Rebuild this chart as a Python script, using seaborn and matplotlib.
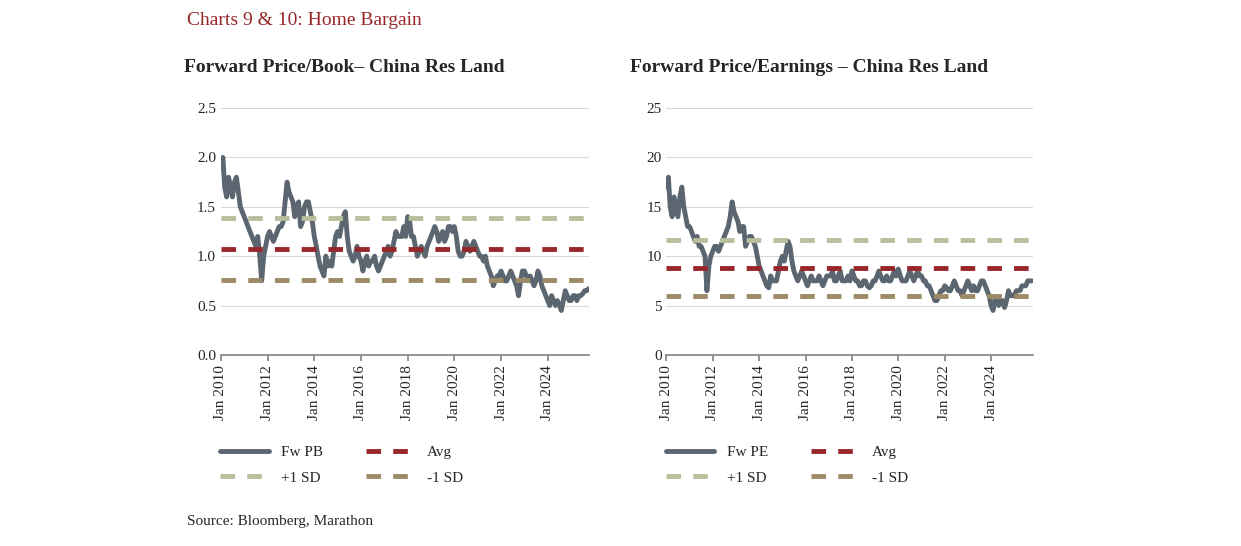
import matplotlib
matplotlib.use("Agg")
import matplotlib.pyplot as plt
import numpy as np
import pandas as pd
import seaborn as sns

sns.set_theme(style="white")
plt.rcParams['font.family'] = ['Liberation Serif', 'DejaVu Serif']

# monthly values, Jan 2010 .. Oct 2025
fw_pb = [
    1.9, 2.0, 1.7, 1.6, 1.8, 1.7, 1.6, 1.75, 1.8, 1.65, 1.5, 1.45,
    1.4, 1.35, 1.3, 1.25, 1.2, 1.15, 1.1, 1.2, 1.0, 0.75, 1.0, 1.1,
    1.2, 1.25, 1.2, 1.15, 1.2, 1.25, 1.3, 1.3, 1.35, 1.55, 1.75, 1.65,
    1.6, 1.55, 1.4, 1.5, 1.55, 1.3, 1.35, 1.5, 1.55, 1.55, 1.45, 1.35,
    1.2, 1.1, 1.0, 0.9, 0.85, 0.8, 1.0, 0.9, 0.95, 0.9, 1.05, 1.2,
    1.25, 1.2, 1.3, 1.4, 1.45, 1.2, 1.05, 1.0, 0.95, 1.0, 1.1, 1.0,
    0.95, 0.85, 0.95, 1.0, 0.9, 0.95, 0.95, 1.0, 0.9, 0.85, 0.9, 0.95,
    1.0, 1.05, 1.1, 1.0, 1.05, 1.15, 1.25, 1.2, 1.2, 1.2, 1.3, 1.2,
    1.4, 1.35, 1.2, 1.2, 1.1, 1.0, 1.05, 1.1, 1.05, 1.0, 1.1, 1.15,
    1.2, 1.25, 1.3, 1.25, 1.15, 1.2, 1.25, 1.15, 1.2, 1.3, 1.3, 1.25,
    1.3, 1.2, 1.05, 1.0, 1.0, 1.05, 1.15, 1.1, 1.05, 1.1, 1.15, 1.1,
    1.05, 1.0, 1.0, 0.95, 1.0, 0.9, 0.85, 0.8, 0.7, 0.75, 0.8, 0.8,
    0.85, 0.8, 0.75, 0.75, 0.8, 0.85, 0.8, 0.75, 0.7, 0.6, 0.75, 0.85,
    0.85, 0.8, 0.75, 0.8, 0.75, 0.7, 0.75, 0.85, 0.8, 0.7, 0.65, 0.6,
    0.55, 0.5, 0.6, 0.55, 0.5, 0.55, 0.5, 0.45, 0.55, 0.65, 0.6, 0.55,
    0.55, 0.6, 0.6, 0.55, 0.6, 0.6, 0.62, 0.65, 0.65, 0.67,
]
fw_pe = [
    17, 18, 15, 14, 16, 15, 14, 16, 17, 15, 14, 13,
    13, 12.5, 12, 11.5, 12, 11, 11, 10.5, 10, 6.5, 9, 10,
    10.5, 11, 11, 10.5, 11, 11.5, 12, 12.5, 13, 14, 15.5, 14.5,
    14, 13.5, 12.5, 13, 13, 11, 11.5, 12, 12, 11.5, 11, 10,
    9, 8.5, 8, 7.5, 7, 6.8, 8, 7.5, 7.5, 7.5, 8.5, 9.5,
    10, 9.5, 10.5, 11.5, 11, 9.5, 8.5, 8, 7.5, 8, 8.5, 8,
    7.5, 7, 7.5, 8, 7.5, 7.5, 7.5, 8, 7.5, 7, 7.5, 8,
    8, 8, 8.5, 7.5, 7.5, 8, 8.5, 7.5, 7.5, 7.5, 8, 7.5,
    8.5, 8, 7.5, 7.5, 7, 7, 7.5, 7.5, 7, 6.8, 7, 7.5,
    7.5, 8, 8.5, 8, 7.5, 7.5, 8, 7.5, 7.5, 8, 8.5, 8,
    8.7, 8, 7.5, 7.5, 7.5, 8, 8.5, 8, 7.5, 8, 8.5, 8,
    8, 7.5, 7.5, 7, 7, 6.5, 6, 5.5, 5.5, 6, 6.5, 6.5,
    7, 6.8, 6.5, 6.5, 7, 7.5, 7, 6.5, 6.5, 6, 6.5, 7,
    7.5, 7, 6.5, 7, 6.5, 6.5, 7, 7.5, 7.5, 7, 6.5, 6,
    5, 4.5, 5.5, 5.5, 5, 5.5, 5.5, 4.8, 5.5, 6.5, 6, 6,
    6, 6.5, 6.5, 6.5, 7, 7, 7, 7.5, 7.5, 7.5,
]
dates = pd.date_range("2010-01-01", periods=len(fw_pb), freq="MS")
pb_stats = [1.07, 1.39, 0.76]   # avg, +1 SD, -1 SD
pe_stats = [8.8, 11.6, 6.0]
tick_years = list(range(2010, 2026, 2))

LINE = "#5b6670"
AVG = "#98262a"
UP = "#b9bf9c"
DN = "#9c8b66"

fig = plt.figure(figsize=(12.41, 5.46), dpi=100)
fig.text(0.151, 0.963, "Charts 9 & 10: Home Bargain", color="#98262a", fontsize=14, va="center")
fig.text(0.151, 0.044, "Source: Bloomberg, Marathon", fontsize=11, va="center")

def panel(rect, vals, stats, name, title, ylim, yticks, fmt):
    ax = fig.add_axes(rect)
    df = pd.DataFrame({"date": dates, "v": vals})
    sns.lineplot(data=df, x="date", y="v", ax=ax, color=LINE, lw=3.5, label=name)
    for val, col, lab in zip(stats, [AVG, UP, DN], ["Avg", "+1 SD", "-1 SD"]):
        ax.axhline(val, color=col, lw=3.5, ls=(0, (3, 2.5)), label=lab)
    ax.set_xlim(pd.Timestamp("2010-01-01"), pd.Timestamp("2025-10-15"))
    ax.set_ylim(*ylim)
    ax.set_yticks(yticks)
    ax.set_yticklabels([fmt.format(t) for t in yticks], fontsize=11)
    ax.set_xticks([pd.Timestamp(f"{y}-01-01") for y in tick_years])
    ax.set_xticklabels([f"Jan {y}" for y in tick_years], rotation=90, fontsize=11)
    ax.grid(axis="y", color="#d9d9d9", lw=0.8)
    for s in ["top", "right", "left"]:
        ax.spines[s].set_visible(False)
    ax.spines["bottom"].set_color("#888888")
    ax.tick_params(axis="x", length=4, color="#888888", direction="out", bottom=True)
    ax.tick_params(axis="y", length=0)
    ax.set_xlabel("")
    ax.set_ylabel("")
    ax.set_title(title, fontsize=14, fontweight="bold", loc="left", x=-0.1, pad=26)
    h, l = ax.get_legend_handles_labels()
    ax.legend([h[0], h[2], h[1], h[3]], [l[0], l[2], l[1], l[3]], ncol=2,
              loc="upper left", bbox_to_anchor=(-0.04, -0.31), frameon=False,
              fontsize=11, handlelength=3.2, columnspacing=2.8, labelspacing=0.8)
    return ax

panel([0.178, 0.35, 0.297, 0.452], fw_pb, pb_stats, "Fw PB",
      "Forward Price/Book\u2013 China Res Land", (0, 2.5), np.arange(0, 2.51, 0.5), "{:.1f}")
panel([0.537, 0.35, 0.295, 0.452], fw_pe, pe_stats, "Fw PE",
      "Forward Price/Earnings \u2013 China Res Land", (0, 25), np.arange(0, 26, 5), "{:.0f}")

fig.savefig("out.png", dpi=100)
